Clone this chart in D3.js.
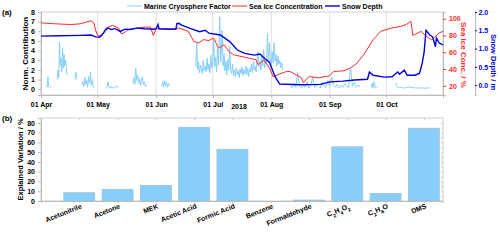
<!DOCTYPE html>
<html>
<head>
<meta charset="utf-8">
<script src="https://cdn.jsdelivr.net/npm/d3@7"></script>
<style>
  body { margin: 0; background: #fff; }
  svg text { font-family: "Liberation Sans", Arial, sans-serif; font-weight: bold; }
  .frame { fill: none; stroke: #cfcfcf; stroke-width: 1; }
  .grid line { stroke: #dedede; }
</style>
</head>
<body>
<div id="chart"></div>
<script>
// ---- data (days since 01 Apr 2018) ----
var iceDay = [0, 7, 16, 21, 26.5, 28, 29, 30, 32, 33.5, 34.5, 38, 41, 42.5, 44, 46, 51.5, 55, 58, 59.5, 61, 66, 71, 73, 78, 81, 83.5, 86, 89, 91.5, 94, 97, 99.5, 102, 106, 110, 114, 115, 118, 121, 123, 130, 132, 138, 139, 142, 147, 153, 155, 161, 164, 167, 171, 176, 180, 186, 191, 193.5, 196, 197, 201.5, 204, 207, 211, 213];
var iceVal = [95, 94, 93, 94, 97.5, 95, 86, 80, 79, 84, 89, 92, 89, 82, 83, 87, 89, 90, 90, 80, 88, 88, 87, 89, 85, 73, 71, 75, 74, 77, 65, 69, 61, 57, 55, 53, 51, 45, 51, 41.5, 31, 37, 37, 29.5, 23.5, 31, 29.5, 32, 37, 38, 41.5, 46, 57, 75, 85, 89, 91, 93, 97, 80, 85, 79, 75, 83, 85];

var snowDay = [0, 10, 21, 26.5, 29, 31, 33, 34, 35.5, 37.5, 39, 42, 44.5, 47, 51, 55, 60, 61, 62, 62.5, 68, 71.5, 72, 73, 74.5, 79, 84, 87, 89, 95, 100, 104, 108, 113, 116, 118.5, 121, 124, 126.5, 137, 148, 153, 160, 166, 173, 174, 176, 182, 186, 189, 190, 192.5, 194, 198, 200.5, 202, 203, 204, 206, 207.5, 209, 209.5, 211, 213];
var snowVal = [1.34, 1.35, 1.36, 1.37, 1.32, 1.31, 1.42, 1.5, 1.56, 1.52, 1.55, 1.47, 1.53, 1.52, 1.56, 1.54, 1.53, 1.55, 1.66, 1.54, 1.53, 1.54, 1.68, 1.69, 1.64, 1.55, 1.46, 1.5, 1.42, 1.37, 1.19, 0.96, 0.87, 0.82, 0.85, 0.73, 0.63, 0.23, 0.03, 0.01, 0.02, 0.09, 0.11, 0.14, 0.16, 0.36, 0.27, 0.22, 0.23, 0.36, 0.3, 0.41, 0.27, 0.27, 0.32, 0.6, 0.9, 1.5, 1.37, 1.32, 1.05, 1.29, 1.15, 1.1];

// marine cryosphere factor, null = gap in record
var mcfDay = [2.6, 3.2, 3.7, 4.0, 4.5, 5.3, 6,
  8.5, 9.0, 9.4, 9.8, 10.2, 10.6, 11.0, 11.4, 11.8, 12.2, 12.6, 13.0, 13.4, 13.8, 14.5,
  18, 18.4, 18.8, 19.2, 20,
  21.7, 22.2, 22.7, 23.2, 23.7, 24.2, 24.7, 25.2, 25.7, 26.2, 26.7, 27.2, 27.7, 28.2, 29,
  34.4, 35, 35.5, 36, 36.6, 37.2, 38, 38.8, 39.5, 40.3, 41, 42,
  48.7, 49.2, 49.7, 50.2, 50.7, 51.2, 51.7, 52.2, 52.7, 53.2, 53.7, 54.2, 54.7, 55.2, 56, 57,
  64, 64.5, 65, 65.5, 66, 66.5, 67, 67.5, 68, 69,
  82, 82.5, 83, 83.5, 84, 84.5, 85, 85.5, 86, 86.5, 87, 87.5, 88, 88.5, 89, 89.5, 90, 90.5, 91, 91.5, 92, 92.5, 93, 93.5, 94, 94.7, 95.2, 95.6, 96, 96.5, 97, 97.5, 98, 98.5, 99, 99.5, 100, 100.5, 101, 101.5, 102, 102.5, 103, 103.5, 104, 104.5, 105, 105.5, 106, 106.5, 107, 107.5, 108, 108.5, 109, 109.5, 110, 110.5, 111, 111.5, 112, 112.5, 113, 113.5, 114, 114.5, 115, 115.5, 116, 116.5, 117, 117.5, 118, 118.5, 119, 119.5, 120, 120.5, 121, 121.5, 122, 122.5, 123, 123.5, 124, 124.5, 125, 125.5, 126, 126.5, 127, 127.5, 128, 129,
  132, 133, 134, 135, 136, 137, 138, 139, 140, 141, 142, 143, 144, 145, 146, 147, 148, 149, 150, 151, 152, 153, 154, 155, 156, 157, 158, 159, 160, 161, 162, 163, 164, 165, 166, 167, 168, 169, 170,
  175, 175.5, 176, 176.5, 177, 177.5, 178, 179,
  188, 188.5, 189, 190, 191, 192, 193, 194, 195, 196, 197, 198, 199, 200, 201, 202, 203, 204, 205, 206];
var mcfVal = [0.3, 0.2, 1.3, 0.3, 0.2, 0.3, null,
  1.0, 2.0, 1.2, 4.9, 2.5, 3.2, 1.8, 4.3, 2.2, 3.6, 2.4, 3.0, 2.0, 1.5, null,
  1.0, 1.8, 1.2, 1.0, null,
  0.5, 0.8, 0.3, 1.2, 0.5, 0.9, 0.2, 1.3, 0.6, 1.8, 0.4, 1.0, 0.3, 0.1, null,
  0.1, 0.3, 0.8, 0.2, 0.1, 0.3, 0.1, 0.2, 0.3, 0.2, 0.3, null,
  0.6, 1.2, 0.5, 2.2, 0.9, 1.5, 0.6, 1.1, 0.4, 0.9, 1.3, 0.5, 0.8, 0.3, 0.5, null,
  0.3, 0.8, 0.2, 0.9, 0.4, 0.7, 0.2, 0.6, 0.3, null,
  2.3, 4.75, 2.0, 2.8, 1.7, 2.5, 2.1, 1.6, 3.0, 1.9, 2.4, 1.8, 3.2, 2.0, 2.6, 1.7, 3.5, 2.2, 2.8, 5.1, 2.3, 3.3, 1.8, 4.2, 2.5, 7.5, 2.8, 4.0, 6.1, 2.4, 3.6, 1.9, 2.9, 1.5, 3.1, 2.0, 4.4, 2.2, 1.6, 2.6, 1.4, 2.0, 1.3, 2.2, 1.5, 1.9, 1.2, 2.1, 1.6, 2.3, 1.4, 2.0, 1.6, 2.4, 1.5, 2.2, 1.3, 2.1, 1.8, 2.6, 1.7, 2.9, 2.0, 2.4, 1.8, 3.2, 3.9, 2.3, 2.9, 2.0, 3.5, 2.4, 4.1, 2.2, 3.0, 2.6, 5.8, 2.8, 4.8, 3.1, 2.5, 3.9, 2.7, 4.8, 2.9, 3.6, 2.4, 3.4, 2.6, 3.0, 2.2, 2.8, 2.0, null,
  0.3, 0.1, 0.6, 0.2, 1.7, 0.3, 0.1, 0.5, 0.2, 0.8, 0.1, 0.4, 1.3, 0.2, 0.6, 0.3, 0.1, 0.7, 0.3, 0.2, 0.9, 0.3, 1.25, 0.4, 0.2, 0.5, 0.1, 0.4, 0.2, 0.6, 0.3, 0.2, 2.3, 0.3, 0.7, 0.2, 0.4, 0.3, null,
  0.2, 0.6, 0.1, 0.8, 0.3, 0.1, 0.2, null,
  0.6, 0.3, 0.2, 0.15, 0.2, 0.1, 0.15, 0.2, 0.25, 0.15, 0.2, 0.15, 0.1, 0.15, 0.1, 0.15, 0.1, 0.1, 0.15, 0.1];

var compounds = ["Acetonitrile", "Acetone", "MEK", "Acetic Acid", "Formic Acid", "Benzene", "Formaldehyde", "C2H4O2", "C2H6O", "DMS"];
var explained = [8.5, 12, 16, 75.5, 53, 0, 1, 55.5, 7.8, 74.5];

var seriesNames = ["Marine Cryosphere Factor", "Sea Ice Concentration", "Snow Depth"];

// ---- layout ----
var svgWidth = 500, svgHeight = 240;
var lightBlue = "#87cefa", iceRed = "#ff2a2a", snowBlue = "#0000e6";

var svg = d3.select("#chart").append("svg")
    .attr("width", svgWidth)
    .attr("height", svgHeight);

var start = new Date(2018, 3, 1);
var toDate = d => d3.timeHour.offset(start, Math.round(d * 24));

// ===== panel (a) =====
var a = {left: 41, right: 443, top: 12, bottom: 95};

var x = d3.scaleTime()
    .domain([start, new Date(2018, 9, 31)])
    .range([a.left, a.right]);
var yL = d3.scaleLinear().domain([-0.6, 8]).range([a.bottom, a.top]);
var yIce = d3.scaleLinear().domain([9, 108]).range([a.bottom, a.top]);
var ySnow = d3.scaleLinear().domain([-0.27, 2.0]).range([a.bottom, a.top]);

var monthTicks = d3.timeMonth.range(start, new Date(2018, 10, 1));

// grid
svg.append("g").attr("class", "grid")
    .selectAll("line").data(monthTicks.slice(1)).enter().append("line")
    .attr("x1", d => x(d)).attr("x2", d => x(d))
    .attr("y1", a.top).attr("y2", a.bottom);

svg.append("rect").attr("class", "frame")
    .attr("x", a.left).attr("y", a.top)
    .attr("width", a.right - a.left).attr("height", a.bottom - a.top);

// axes
var xAxis = svg.append("g")
    .attr("transform", `translate(0, ${a.bottom})`)
    .call(d3.axisBottom(x).tickValues(monthTicks.slice(0, 7)).tickFormat(d3.timeFormat("%d %b")).tickSize(3));
xAxis.select(".domain").attr("stroke", "#bbb");
xAxis.selectAll(".tick line").attr("stroke", "#bbb");
xAxis.selectAll("text").attr("font-size", 7).attr("fill", "#000").attr("dy", "0.9em");

svg.append("text").attr("x", 239).attr("y", 109).attr("text-anchor", "middle")
    .attr("font-size", 7).text("2018");

var leftAxis = svg.append("g")
    .attr("transform", `translate(${a.left}, 0)`)
    .call(d3.axisLeft(yL).tickValues(d3.range(0, 9)).tickSize(3));
leftAxis.select(".domain").attr("stroke", "#bbb");
leftAxis.selectAll(".tick line").attr("stroke", "#bbb");
leftAxis.selectAll("text").attr("font-size", 7).attr("fill", "#000");

var iceAxis = svg.append("g")
    .attr("transform", `translate(${a.right}, 0)`)
    .call(d3.axisRight(yIce).tickValues([20, 40, 60, 80, 100]).tickSize(3));
iceAxis.select(".domain").attr("stroke", "#bbb");
iceAxis.selectAll(".tick line").attr("stroke", iceRed);
iceAxis.selectAll("text").attr("font-size", 7).attr("fill", iceRed);

var snowAxis = svg.append("g")
    .attr("transform", `translate(475, 0)`)
    .call(d3.axisRight(ySnow).tickValues([0, 0.5, 1, 1.5, 2]).tickFormat(d3.format(".1f")).tickSize(2).tickPadding(1.5));
snowAxis.select(".domain").attr("stroke", "#bbb");
snowAxis.selectAll(".tick line").attr("stroke", snowBlue);
snowAxis.selectAll("text").attr("font-size", 7).attr("fill", snowBlue);

// axis titles
svg.append("text")
    .attr("transform", `translate(28, ${(a.top + a.bottom) / 2}) rotate(-90)`)
    .attr("text-anchor", "middle").attr("font-size", 8)
    .text("Norm. Contribution");
svg.append("text")
    .attr("transform", `translate(461, 55) rotate(90)`)
    .attr("text-anchor", "middle").attr("font-size", 8).attr("fill", iceRed)
    .text("Sea Ice Conc. / %");
svg.append("text")
    .attr("transform", `translate(491, 62) rotate(90)`)
    .attr("text-anchor", "middle").attr("font-size", 7.5).attr("fill", snowBlue)
    .text("Snow Depth / m");

// lines
var mcfData = mcfDay.map((d, i) => ({t: toDate(d), v: mcfVal[i]}));
var iceData = iceDay.map((d, i) => ({t: toDate(d), v: iceVal[i]}));
var snowData = snowDay.map((d, i) => ({t: toDate(d), v: snowVal[i]}));

svg.append("path").datum(mcfData)
    .attr("fill", "none").attr("stroke", lightBlue).attr("stroke-width", 1)
    .attr("d", d3.line().defined(d => d.v !== null).x(d => x(d.t)).y(d => yL(d.v)));

svg.append("path").datum(iceData)
    .attr("fill", "none").attr("stroke", iceRed).attr("stroke-width", 1)
    .attr("d", d3.line().x(d => x(d.t)).y(d => yIce(d.v)));

svg.append("path").datum(snowData)
    .attr("fill", "none").attr("stroke", snowBlue).attr("stroke-width", 1.4)
    .attr("d", d3.line().x(d => x(d.t)).y(d => ySnow(d.v)));

// legend
var legendX = [127, 232, 325];
var legendColors = [lightBlue, iceRed, snowBlue];
var legend = svg.append("g").selectAll("g").data(seriesNames).enter().append("g")
    .attr("transform", (d, i) => `translate(${legendX[i]}, 6)`);
legend.append("line").attr("x1", 0).attr("x2", 15).attr("y1", 0).attr("y2", 0)
    .attr("stroke", (d, i) => legendColors[i]).attr("stroke-width", (d, i) => i == 2 ? 1.4 : 1);
legend.append("text").attr("x", 17).attr("y", 2.5).attr("font-size", 7).text(d => d);

svg.append("text").attr("x", 2).attr("y", 15).attr("font-size", 8).text("(a)");

// ===== panel (b) =====
var b = {left: 41, right: 443, top: 118, bottom: 201};

var xb = d3.scaleLinear().domain([0, 10.5]).range([b.left, b.right]);
var yb = d3.scaleLinear().domain([0, 85]).range([b.bottom, b.top]);
var slot = xb(1) - xb(0);
var barW = slot * 0.81;

svg.append("rect").attr("class", "frame")
    .attr("x", b.left).attr("y", b.top)
    .attr("width", b.right - b.left).attr("height", b.bottom - b.top);

svg.append("g").selectAll("rect").data(explained).enter().append("rect")
    .attr("x", (d, i) => xb(i + 1) - barW / 2)
    .attr("y", d => yb(d))
    .attr("width", barW)
    .attr("height", d => yb(0) - yb(d))
    .attr("fill", lightBlue)
    .attr("stroke", "#9fc3d6")
    .attr("stroke-width", 0.8);

var bLeft = svg.append("g")
    .attr("transform", `translate(${b.left}, 0)`)
    .call(d3.axisLeft(yb).tickValues(d3.range(0, 81, 10)).tickSize(3));
bLeft.select(".domain").attr("stroke", "#bbb");
bLeft.selectAll(".tick line").attr("stroke", "#bbb");
bLeft.selectAll("text").attr("font-size", 7).attr("fill", "#000");

// minor ticks on the right edge and top ticks
svg.append("g").attr("transform", `translate(${b.right}, 0)`)
    .call(d3.axisLeft(yb).tickValues(d3.range(0, 85, 5)).tickSize(2).tickFormat(""))
    .call(g => g.select(".domain").remove())
    .selectAll("line").attr("stroke", "#ccc");
svg.append("g").attr("transform", `translate(0, ${b.top})`)
    .call(d3.axisBottom(xb).tickValues(d3.range(1, 11)).tickSize(2).tickFormat(""))
    .call(g => g.select(".domain").remove())
    .selectAll("line").attr("stroke", "#ccc");

var bBottom = svg.append("g")
    .attr("transform", `translate(0, ${b.bottom})`)
    .call(d3.axisBottom(xb).tickValues(d3.range(1, 11)).tickSize(2).tickFormat(""));
bBottom.select(".domain").attr("stroke", "#bbb");
bBottom.selectAll(".tick line").attr("stroke", "#bbb");

// category labels with chemical subscripts
compounds.forEach(function (name, i) {
    var t = svg.append("text")
        .attr("transform", `translate(${xb(i + 1) + 3}, 208) rotate(-22)`)
        .attr("text-anchor", "end")
        .attr("font-size", 7);
    if (/^C\d/.test(name)) {
        name.match(/[A-Z][a-z]?|\d+/g).forEach(function (part) {
            var sp = t.append("tspan").text(part);
            if (/\d/.test(part)) sp.attr("font-size", 5).attr("baseline-shift", "sub");
        });
    } else {
        t.text(name);
    }
});

svg.append("text")
    .attr("transform", `translate(23, ${(b.top + b.bottom) / 2}) rotate(-90)`)
    .attr("text-anchor", "middle").attr("font-size", 7.5)
    .text("Explained Variation / %");

svg.append("text").attr("x", 2).attr("y", 121).attr("font-size", 8).text("(b)");
</script>
</body>
</html>
